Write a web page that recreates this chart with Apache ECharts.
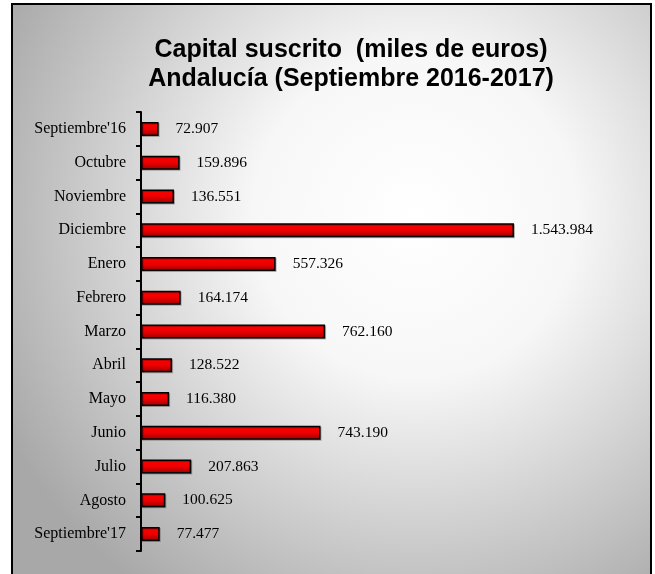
<!DOCTYPE html>
<html>
<head>
<meta charset="utf-8">
<script src="https://cdn.jsdelivr.net/npm/echarts@6/dist/echarts.min.js"></script>
<style>html,body{margin:0;padding:0;background:#fff}#c{width:655px;height:574px}</style>
</head>
<body>
<div id="c"></div>
<script>
const categories = ["Septiembre'16","Octubre","Noviembre","Diciembre","Enero","Febrero","Marzo","Abril","Mayo","Junio","Julio","Agosto","Septiembre'17"];
const values = [72907,159896,136551,1543984,557326,164174,762160,128522,116380,743190,207863,100625,77477];
const titleLines = ["Capital suscrito  (miles de euros)","Andalucía (Septiembre 2016-2017)"];

function fmt(v){return String(v).replace(/\B(?=(\d{3})+(?!\d))/g,'.');}

const chart = echarts.init(document.getElementById('c'), null, {renderer:'canvas'});
chart.setOption({
  animation:false,
  graphic:[
    {type:'rect', z:-10, silent:true, shape:{x:12,y:4,width:639,height:590},
     style:{fill:{type:'radial',x:0.63,y:0.36,r:0.78,colorStops:[{offset:0,color:'#ffffff'},{offset:0.35,color:'#f7f7f7'},{offset:1,color:'#a8a8a8'}]},
            stroke:'#000',lineWidth:2}},
    {type:'text', z:10, x:351, y:36, style:{text:titleLines.join('\n'), fill:'#000', font:'bold 25px "Liberation Sans", Arial, sans-serif', textAlign:'center', textVerticalAlign:'top', lineHeight:29}}
  ],
  grid:{left:141, top:112, height:439, width:386.5},
  xAxis:{type:'value', min:0, max:1600000, show:false},
  yAxis:{type:'category', data:categories, inverse:true,
    axisLine:{show:true, lineStyle:{color:'#000', width:2}},
    axisTick:{show:true, length:5, lineStyle:{color:'#000', width:2}},
    axisLabel:{color:'#000', fontFamily:'"Liberation Serif", "Times New Roman", serif', fontSize:16, margin:15},
    splitLine:{show:false}
  },
  series:[{type:'bar', data:values, barWidth:14,
    itemStyle:{color:{type:'linear',x:0,y:0,x2:0,y2:1,colorStops:[{offset:0,color:'#ff0000'},{offset:0.5,color:'#ee0000'},{offset:1,color:'#990000'}]},
      borderColor:'#000', borderWidth:1.5, shadowColor:'rgba(0,0,0,0.25)', shadowOffsetX:1, shadowOffsetY:1},
    label:{show:true, position:'right', distance:17, formatter:p=>fmt(p.value), color:'#000', fontFamily:'"Liberation Serif", "Times New Roman", serif', fontSize:15.5}
  }]
});
</script>
</body>
</html>
